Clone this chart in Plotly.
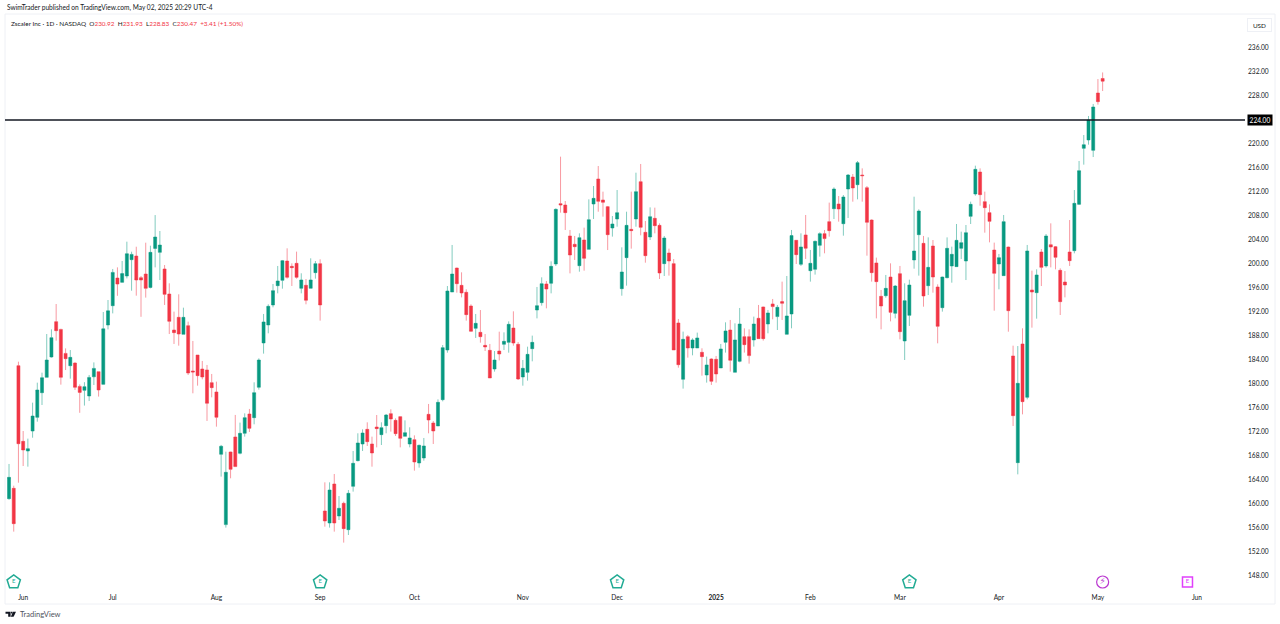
# Zscaler daily candles, TradingView look

import plotly.graph_objects as go

opens = [
    160.89, 162.61, 183.05, 170.44, 168.83, 172.16, 174.44, 178.55, 181.11, 184.50,
    190.39, 189.10, 185.10, 183.05, 183.50, 179.60, 178.94, 178.00, 181.20, 182.05,
    179.94, 189.83, 193.05, 197.66, 196.94, 198.00, 200.72, 201.33, 197.72, 198.33,
    196.10, 202.60, 201.94, 199.17, 195.00, 189.00, 191.11, 188.28, 189.72, 182.17,
    184.83, 182.50, 182.34, 180.22, 178.67, 168.28, 156.56, 168.67, 171.17, 168.45,
    171.78, 175.00, 174.39, 179.45, 186.84, 189.84, 193.17, 196.39, 197.28, 200.50,
    199.61, 200.11, 195.95, 196.45, 195.95, 198.56, 200.06, 158.83, 156.83, 163.33,
    158.00, 160.11, 155.72, 162.94, 167.22, 170.00, 172.44, 170.00, 172.83, 171.56,
    173.06, 175.06, 173.94, 174.56, 171.28, 170.00, 170.72, 166.83, 167.67, 174.94,
    173.50, 173.00, 177.39, 185.67, 195.33, 199.33, 196.44, 195.28, 193.00, 189.28,
    188.61, 186.44, 185.61, 182.50, 185.50, 186.61, 186.94, 189.33, 186.61, 181.17,
    181.94, 185.89, 192.33, 193.56, 196.67, 196.78, 200.00, 210.06, 209.83, 204.67,
    203.28, 199.72, 204.00, 202.44, 210.00, 214.17, 210.67, 209.56, 206.00, 207.50,
    195.89, 201.06, 205.78, 207.50, 213.72, 205.28, 204.50, 207.61, 206.44, 200.06,
    201.83, 200.06, 190.17, 180.78, 187.89, 186.00, 186.00, 185.28, 181.50, 184.17,
    184.11, 182.67, 186.95, 189.00, 181.95, 183.78, 187.89, 187.89, 187.34, 190.95,
    192.84, 190.00, 193.34, 191.23, 193.73, 188.28, 191.67, 203.95, 199.95, 204.84,
    198.89, 199.11, 203.11, 205.06, 207.06, 209.22, 210.00, 206.72, 212.50, 214.50,
    213.22, 214.83, 212.72, 207.33, 200.17, 194.61, 194.72, 197.83, 191.78, 198.39,
    187.17, 191.44, 200.67, 204.89, 203.44, 196.39, 203.00, 196.17, 192.72, 197.72,
    199.67, 199.56, 202.61, 200.50, 207.94, 211.67, 215.33, 210.39, 208.56, 202.33,
    200.00, 198.06, 202.83, 184.67, 166.89, 186.67, 177.78, 195.67, 195.22, 202.00,
    199.67, 203.22, 202.89, 198.94, 197.00, 202.00, 202.22, 209.94, 219.28, 220.67,
    218.94, 228.50, 230.92,
]
highs = [
    166.67, 163.05, 183.72, 172.16, 170.89, 176.89, 180.22, 181.89, 188.33, 189.11,
    193.33, 189.20, 185.94, 185.66, 183.60, 179.94, 180.30, 181.50, 183.60, 182.05,
    192.00, 194.00, 199.17, 199.44, 200.50, 203.72, 202.05, 202.88, 198.00, 203.55,
    203.05, 208.16, 205.50, 199.83, 196.78, 192.06, 194.95, 192.72, 190.39, 187.17,
    184.83, 183.84, 183.17, 181.67, 180.39, 169.84, 168.72, 168.72, 174.84, 173.56,
    175.11, 175.84, 180.28, 184.28, 191.67, 193.28, 196.67, 199.67, 200.67, 202.61,
    200.11, 202.06, 198.45, 197.50, 200.95, 200.50, 200.78, 163.61, 163.61, 165.00,
    161.33, 160.39, 162.33, 168.83, 171.78, 172.44, 173.61, 171.22, 174.83, 173.61,
    175.00, 175.78, 174.28, 174.61, 173.94, 172.78, 171.44, 169.89, 171.00, 176.67,
    173.83, 177.44, 186.50, 196.33, 203.17, 199.39, 198.61, 195.78, 193.28, 191.67,
    192.33, 188.33, 186.67, 185.50, 188.72, 188.61, 190.44, 192.11, 187.00, 184.00,
    186.22, 188.06, 196.17, 197.78, 197.17, 200.44, 209.28, 217.89, 210.50, 205.67,
    204.67, 205.11, 206.06, 210.78, 213.00, 216.33, 212.06, 209.67, 208.00, 212.33,
    202.78, 208.72, 212.06, 215.22, 216.67, 207.17, 209.44, 209.39, 206.78, 204.67,
    202.56, 200.83, 190.84, 188.73, 188.17, 187.62, 188.56, 185.95, 184.56, 184.28,
    184.67, 186.67, 190.28, 190.67, 190.11, 192.67, 189.28, 189.11, 191.23, 193.17,
    192.90, 192.34, 194.17, 193.17, 197.06, 198.00, 205.67, 204.00, 205.11, 208.17,
    202.34, 203.90, 205.28, 205.67, 210.23, 212.78, 211.33, 211.50, 215.00, 215.00,
    217.17, 215.94, 213.00, 207.44, 201.06, 195.67, 198.17, 200.11, 196.50, 199.67,
    196.78, 197.39, 211.22, 209.11, 204.67, 204.44, 204.00, 196.61, 197.89, 204.44,
    202.89, 206.67, 205.39, 206.50, 210.39, 216.39, 215.94, 212.06, 209.94, 203.56,
    201.67, 208.17, 202.90, 186.39, 186.33, 189.28, 203.17, 198.89, 199.11, 202.50,
    205.00, 206.78, 203.00, 199.28, 198.83, 207.33, 212.33, 217.17, 221.50, 224.67,
    226.67, 230.83, 231.93,
]
lows = [
    160.70, 155.39, 163.55, 166.33, 166.22, 171.05, 173.72, 176.50, 181.10, 184.40,
    187.22, 179.89, 182.33, 180.89, 179.00, 175.20, 176.40, 177.16, 179.83, 177.90,
    179.90, 189.10, 191.77, 194.70, 196.90, 197.60, 195.55, 194.72, 191.20, 194.40,
    195.94, 199.44, 197.33, 193.17, 188.33, 186.67, 186.39, 188.28, 181.50, 178.45,
    179.72, 180.78, 173.84, 177.78, 172.89, 164.56, 156.06, 164.28, 166.20, 168.28,
    171.23, 172.00, 173.28, 179.06, 185.06, 188.45, 192.78, 195.11, 195.89, 197.56,
    196.34, 197.56, 195.11, 193.28, 195.95, 197.56, 190.56, 156.22, 156.06, 155.39,
    157.33, 153.56, 154.83, 162.06, 167.11, 168.83, 169.67, 166.22, 169.44, 169.83,
    171.78, 172.06, 171.33, 169.44, 171.28, 169.44, 165.56, 166.06, 167.22, 171.78,
    170.00, 173.00, 177.11, 185.22, 195.33, 195.22, 194.44, 190.56, 188.72, 187.67,
    186.89, 185.50, 181.00, 182.06, 183.94, 185.67, 185.22, 186.39, 180.67, 179.72,
    180.56, 183.78, 190.94, 193.06, 192.61, 195.11, 199.67, 208.56, 205.67, 198.44,
    200.67, 198.72, 198.89, 202.44, 207.50, 208.72, 207.89, 202.33, 204.56, 206.22,
    194.72, 196.39, 202.56, 206.22, 204.78, 200.22, 204.00, 205.11, 197.50, 198.00,
    198.06, 185.67, 182.72, 179.23, 184.39, 184.78, 186.00, 181.39, 180.23, 179.84,
    180.23, 182.67, 185.23, 182.06, 181.95, 183.62, 185.23, 183.39, 186.23, 187.56,
    187.23, 188.45, 190.78, 189.00, 190.67, 188.28, 189.28, 200.00, 199.67, 200.84,
    197.06, 198.23, 201.23, 201.78, 204.56, 207.50, 207.06, 204.72, 207.67, 210.39,
    210.78, 210.39, 201.39, 197.06, 190.94, 189.11, 194.39, 190.44, 190.94, 187.44,
    184.00, 189.67, 199.22, 198.06, 192.89, 194.83, 195.22, 186.78, 192.06, 197.61,
    196.89, 199.56, 200.83, 197.33, 206.67, 211.39, 209.72, 205.22, 203.61, 192.22,
    195.78, 198.06, 188.72, 173.00, 164.94, 174.94, 177.44, 189.39, 190.89, 196.33,
    199.39, 199.44, 199.11, 191.50, 194.44, 199.67, 201.78, 209.83, 216.56, 219.89,
    217.83, 226.56, 228.83,
]
closes = [
    164.44, 156.72, 170.05, 169.00, 169.22, 174.66, 179.00, 181.05, 184.00, 187.72,
    188.89, 181.11, 184.22, 184.44, 179.44, 178.60, 179.55, 181.10, 182.60, 179.00,
    189.20, 192.20, 198.60, 196.66, 198.40, 201.72, 201.60, 197.33, 197.33, 195.94,
    201.94, 204.50, 203.16, 194.94, 190.44, 188.56, 188.33, 191.11, 181.83, 182.00,
    181.39, 181.17, 176.78, 179.39, 174.45, 169.62, 165.28, 165.78, 166.23, 171.78,
    174.39, 172.61, 178.56, 184.00, 190.34, 192.95, 195.56, 197.17, 200.56, 197.78,
    199.39, 197.78, 197.34, 193.95, 197.34, 200.06, 193.17, 157.17, 162.33, 156.83,
    159.28, 155.89, 161.78, 166.78, 170.17, 171.83, 170.39, 168.50, 172.56, 172.72,
    174.83, 174.17, 171.72, 170.94, 171.89, 171.00, 167.00, 169.78, 169.67, 174.00,
    172.17, 176.94, 186.06, 195.50, 198.33, 196.72, 195.17, 191.56, 188.78, 190.11,
    187.89, 186.17, 181.00, 184.00, 185.00, 187.11, 189.94, 186.83, 180.83, 182.61,
    184.94, 186.94, 193.06, 196.72, 195.83, 199.61, 209.11, 209.83, 208.56, 201.50,
    202.89, 204.39, 200.94, 207.39, 210.94, 210.44, 210.28, 204.89, 206.67, 208.56,
    198.67, 206.44, 205.56, 212.06, 206.11, 201.39, 207.89, 206.39, 198.50, 204.33,
    200.50, 185.67, 183.22, 187.45, 186.00, 187.34, 187.67, 184.56, 183.17, 180.45,
    181.67, 185.84, 188.84, 183.95, 187.34, 190.00, 186.56, 184.73, 190.00, 187.56,
    187.56, 191.84, 192.90, 192.78, 193.45, 191.34, 204.73, 201.56, 202.84, 202.62,
    200.11, 203.78, 205.06, 204.23, 205.56, 212.50, 209.17, 211.17, 214.83, 212.67,
    216.89, 214.72, 206.94, 198.56, 197.06, 193.00, 195.94, 191.94, 196.33, 188.72,
    193.89, 196.50, 202.17, 208.83, 194.67, 199.44, 197.83, 189.61, 197.83, 202.61,
    201.61, 203.94, 203.56, 205.22, 209.94, 215.78, 211.56, 209.39, 207.11, 198.44,
    201.06, 207.06, 192.22, 174.72, 180.11, 177.06, 202.17, 195.33, 198.17, 199.44,
    204.67, 202.83, 201.11, 193.72, 196.50, 200.56, 210.11, 215.56, 219.89, 224.00,
    226.17, 227.06, 230.47,
]
candle_idx = list(range(len(opens)))

# first trading day of each month, Jun 2025 is past the last bar
month_idx = [3, 22, 44, 66, 86, 109, 129, 150, 170, 189, 210, 231, 252]
month_labels = ['Jun', 'Jul', 'Aug', 'Sep', 'Oct', 'Nov', 'Dec', '<b>2025</b>',
                'Feb', 'Mar', 'Apr', 'May', 'Jun']

# 224 is carried by the black price label
price_ticks = [148, 152, 156, 160, 164, 168, 172, 176, 180, 184, 188, 192, 196, 200,
               204, 208, 212, 216, 220, 228, 232, 236]
level_price = 224.0

# events row along the bottom of the pane
earnings_idx = [1, 66, 129, 191]
earnings_y = [147, 147, 147, 147]
dividend_idx = [232]
dividend_y = [147]
next_earnings_idx = [250]
next_earnings_y = [147]

GREEN = '#089981'
RED = '#F23645'
TEXT = '#131722'
BORDER = '#EEF0F5'
FONT = 'Lato'

# pane edges in screen pixels
PANE_L, PANE_R, PANE_T, PANE_B = 6, 1245, 14, 589
WIDTH, HEIGHT = 1280, 624


def px(x):
    return (x - PANE_L) / (PANE_R - PANE_L)


def py(y):
    return (PANE_B - y) / (PANE_B - PANE_T)


fig = go.Figure()

fig.add_trace(go.Candlestick(
    x=candle_idx,
    open=opens,
    high=highs,
    low=lows,
    close=closes,
    increasing=dict(line=dict(color='rgba(8,153,129,0.5)', width=1), fillcolor=GREEN),
    decreasing=dict(line=dict(color='rgba(242,54,69,0.5)', width=1), fillcolor=RED),
    showlegend=False,
))

fig.add_trace(go.Scatter(
    x=earnings_idx, y=earnings_y, mode='markers+text', text=['E'] * len(earnings_idx),
    textposition='middle center', textfont=dict(family=FONT, size=6, color='#22AB94'),
    marker=dict(symbol='pentagon', size=14, color='white', line=dict(color='#22AB94', width=1.5)),
    showlegend=False,
))
fig.add_trace(go.Scatter(
    x=dividend_idx, y=dividend_y, mode='markers+text', text=['⚡'],
    textposition='middle center', textfont=dict(family='DejaVu Sans', size=9, color='#BA36D0'),
    marker=dict(symbol='circle', size=12, color='white', line=dict(color='#BA36D0', width=1.2)),
    showlegend=False,
))
fig.add_trace(go.Scatter(
    x=next_earnings_idx, y=next_earnings_y, mode='markers+text', text=['E'],
    textposition='middle center', textfont=dict(family=FONT, size=6, color='#E040FB'),
    marker=dict(symbol='square', size=10, color='white', line=dict(color='#E040FB', width=1.5)),
    showlegend=False,
))

# horizontal level
fig.add_shape(type='line', xref='paper', yref='y', x0=px(5), x1=1, y0=level_price, y1=level_price,
              line=dict(color='#131722', width=1.5))

# outer frame
fig.add_shape(type='rect', xref='paper', yref='paper', x0=px(5), x1=px(1275), y0=py(604), y1=py(14),
              line=dict(color=BORDER, width=1), layer='below')

# TradingView logo
logo = [
    [(5.5, 611.8), (10.6, 611.8), (10.6, 616.8), (8.2, 616.8), (8.2, 613.8), (5.5, 613.8)],
    [(13.0, 611.8), (16.0, 611.8), (13.6, 616.8), (10.8, 616.8)],
    [(11.0, 611.8), (12.5, 611.8), (12.5, 613.4), (11.0, 613.4)],
]
for part in logo:
    path = 'M ' + ' L '.join(f'{px(a):.5f} {py(b):.5f}' for a, b in part) + ' Z'
    fig.add_shape(type='path', xref='paper', yref='paper', path=path,
                  fillcolor=TEXT, line=dict(width=0))

legend_text = (
    f'<span style="color:{TEXT}">Zscaler Inc · 1D · NASDAQ  O</span>230.92'
    f'<span style="color:{TEXT}">  H</span>231.93'
    f'<span style="color:{TEXT}">  L</span>228.83'
    f'<span style="color:{TEXT}">  C</span>230.47  +3.41 (+1.50%)'
)

annotations = [
    dict(x=px(5), y=py(8), text='SwimTrader published on TradingView.com, May 02, 2025 20:29 UTC-4',
         xanchor='left', font=dict(color=TEXT, size=6.6)),
    dict(x=px(9), y=py(23), text=legend_text, xanchor='left', font=dict(color=RED, size=6.4)),
    dict(x=px(18), y=py(614.5), text='TradingView', xanchor='left', font=dict(color='#50535E', size=7.5)),
    dict(x=px(1259.5), y=py(24.5), text='USD', font=dict(color=TEXT, size=6.4),
         bordercolor=BORDER, borderwidth=1, borderpad=3, bgcolor='white', width=17, height=6),
    dict(x=px(1259.5), y=level_price, yref='y', text='224.00',
         font=dict(color='white', size=6.6), bgcolor='black', borderpad=1, width=22, height=8),
]
for a in annotations:
    a.setdefault('xref', 'paper')
    a.setdefault('yref', 'paper')
    a.setdefault('xanchor', 'center')
    a.update(showarrow=False, yanchor='middle')

fig.update_layout(
    width=WIDTH,
    height=HEIGHT,
    autosize=False,
    margin=dict(l=PANE_L, r=WIDTH - PANE_R, t=PANE_T, b=HEIGHT - PANE_B),
    paper_bgcolor='white',
    plot_bgcolor='white',
    font=dict(family=FONT, size=6.6, color=TEXT),
    showlegend=False,
    boxgap=0.08,
    annotations=annotations,
    xaxis=dict(
        range=[-0.64, 262.2],
        rangeslider=dict(visible=False),
        tickmode='array',
        tickvals=month_idx,
        ticktext=month_labels,
        ticklabelstandoff=3,
        showgrid=False,
        zeroline=False,
        showline=False,
        ticks='',
    ),
    yaxis=dict(
        side='right',
        range=[145.83, 241.67],
        tickmode='array',
        tickvals=price_ticks,
        ticktext=[f'{p:.2f}' for p in price_ticks],
        ticklabelstandoff=2,
        showgrid=False,
        zeroline=False,
        showline=False,
        ticks='',
    ),
)

# the page's default body margin would push the chart off its 1280x624 spot
fig.write_html("out.html", config={'displayModeBar': False},
               post_script="document.body.style.margin='0';")
